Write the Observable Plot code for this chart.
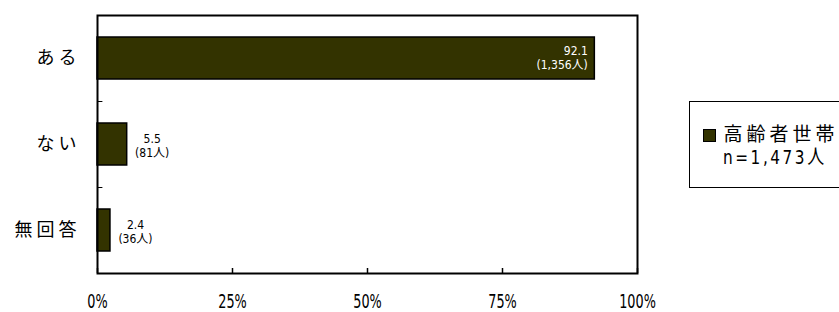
<!DOCTYPE html>
<html>
<head>
<meta charset="utf-8">
<script src="https://cdn.jsdelivr.net/npm/d3@7"></script>
<script src="https://cdn.jsdelivr.net/npm/@observablehq/plot@0.6"></script>
<style>
  html, body { margin: 0; padding: 0; background: #fff; }
  body { width: 839px; height: 312px; overflow: hidden; }
  #wrap { position: relative; width: 839px; height: 312px; overflow: hidden; }
  #wrap svg { position: absolute; left: 0; top: 0; }
  g[aria-label="y-axis tick label"] text { letter-spacing: 4px; }
  #legend { position: absolute; left: 689px; top: 101px; width: 170px; height: 87px;
            border: 1.5px solid #000; box-sizing: border-box; background: #fff;
            font-family: "Noto Sans CJK JP", sans-serif; color: #000; }
  #legend .sw { position: absolute; left: 12.5px; top: 27px; width: 11px; height: 11px;
                background: #333300; border: 1.5px solid #000; }
  #legend .name { position: absolute; left: 33.5px; top: 19px; font-size: 19px; line-height: 24px; letter-spacing: 4px; white-space: nowrap; }
  #legend .n { position: absolute; left: 32.5px; top: 44px; font-size: 20px; line-height: 22px; white-space: nowrap; letter-spacing: 3px;
               font-family: "DejaVu Sans Condensed", "Noto Sans CJK JP", sans-serif;
               transform: scaleX(0.85); transform-origin: 0 0; }
</style>
</head>
<body>
<div id="wrap"></div>
<script>
const categories = ["ある", "ない", "無回答"];
const percents = [92.1, 5.5, 2.4];
const counts = ["1,356", "81", "36"];
const xTicks = [0, 25, 50, 75, 100];
const seriesName = "高齢者世帯";
const sampleLabel = "n=1,473人";

const data = categories.map((c, i) => ({cat: c, pct: percents[i], label: percents[i].toFixed(1) + "\n(" + counts[i] + "人)"}));
const narrow = "'DejaVu Sans Condensed', 'Noto Sans CJK JP', sans-serif";

const chart = Plot.plot({
  width: 839,
  height: 312,
  marginLeft: 97,
  marginRight: 202,
  marginTop: 15,
  marginBottom: 39,
  style: {background: "transparent", color: "#000"},
  x: {domain: [0, 100]},
  y: {domain: categories, paddingInner: 0.51, paddingOuter: 0.255},
  marks: [
    Plot.barX(data, {x: "pct", y: "cat", fill: "#333300", stroke: "#000", strokeWidth: 1.5}),
    Plot.ruleY(categories.slice(0, 2), {y: d => d, dy: 43, x1: 0, x2: 1, stroke: "#000", strokeWidth: 1}),
    Plot.frame({stroke: "#000", strokeWidth: 2}),
    Plot.axisX({ticks: xTicks, tickSize: -5, tickFormat: () => "", strokeWidth: 1.5, label: null}),
    Plot.axisX({ticks: xTicks, tickSize: 0, tickPadding: 21, tickFormat: d => d + "%", fontSize: 19, fontFamily: narrow, label: null, ariaLabel: "x-label-narrow"}),
    Plot.axisY({tickSize: 0, tickPadding: 17, fontSize: 18, fontFamily: "'Noto Sans CJK JP', sans-serif", label: null}),
    Plot.text(data.filter(d => d.pct > 50), {x: "pct", y: "cat", text: "label", textAnchor: "end", dx: -7, dy: -1, fill: "#fff", fontSize: 12, lineHeight: 1.12, fontFamily: narrow, ariaLabel: "value-narrow"}),
    Plot.text(data.filter(d => d.pct <= 50), {x: "pct", y: "cat", text: "label", textAnchor: "middle", dx: 25, dy: 1, fill: "#000", fontSize: 12, lineHeight: 1.12, fontFamily: narrow, ariaLabel: "value-narrow"})
  ]
});

// horizontally condense narrow-font texts around their anchor point
function condense(el, s) {
  const x = parseFloat(el.getAttribute("x") || "0");
  const t = el.getAttribute("transform") || "";
  el.setAttribute("transform", `${t} translate(${x},0) scale(${s},1) translate(${-x},0)`);
}
chart.querySelectorAll('g[aria-label^="x-label-narrow"] text').forEach(el => condense(el, 0.75));
chart.querySelectorAll('g[aria-label^="value-narrow"] text').forEach(el => condense(el, 0.9));

const wrap = document.getElementById("wrap");
wrap.appendChild(chart);

const legend = document.createElement("div");
legend.id = "legend";
legend.innerHTML = '<div class="sw"></div><div class="name"></div><div class="n"></div>';
legend.querySelector(".name").textContent = seriesName;
legend.querySelector(".n").textContent = sampleLabel;
wrap.appendChild(legend);
</script>
</body>
</html>
